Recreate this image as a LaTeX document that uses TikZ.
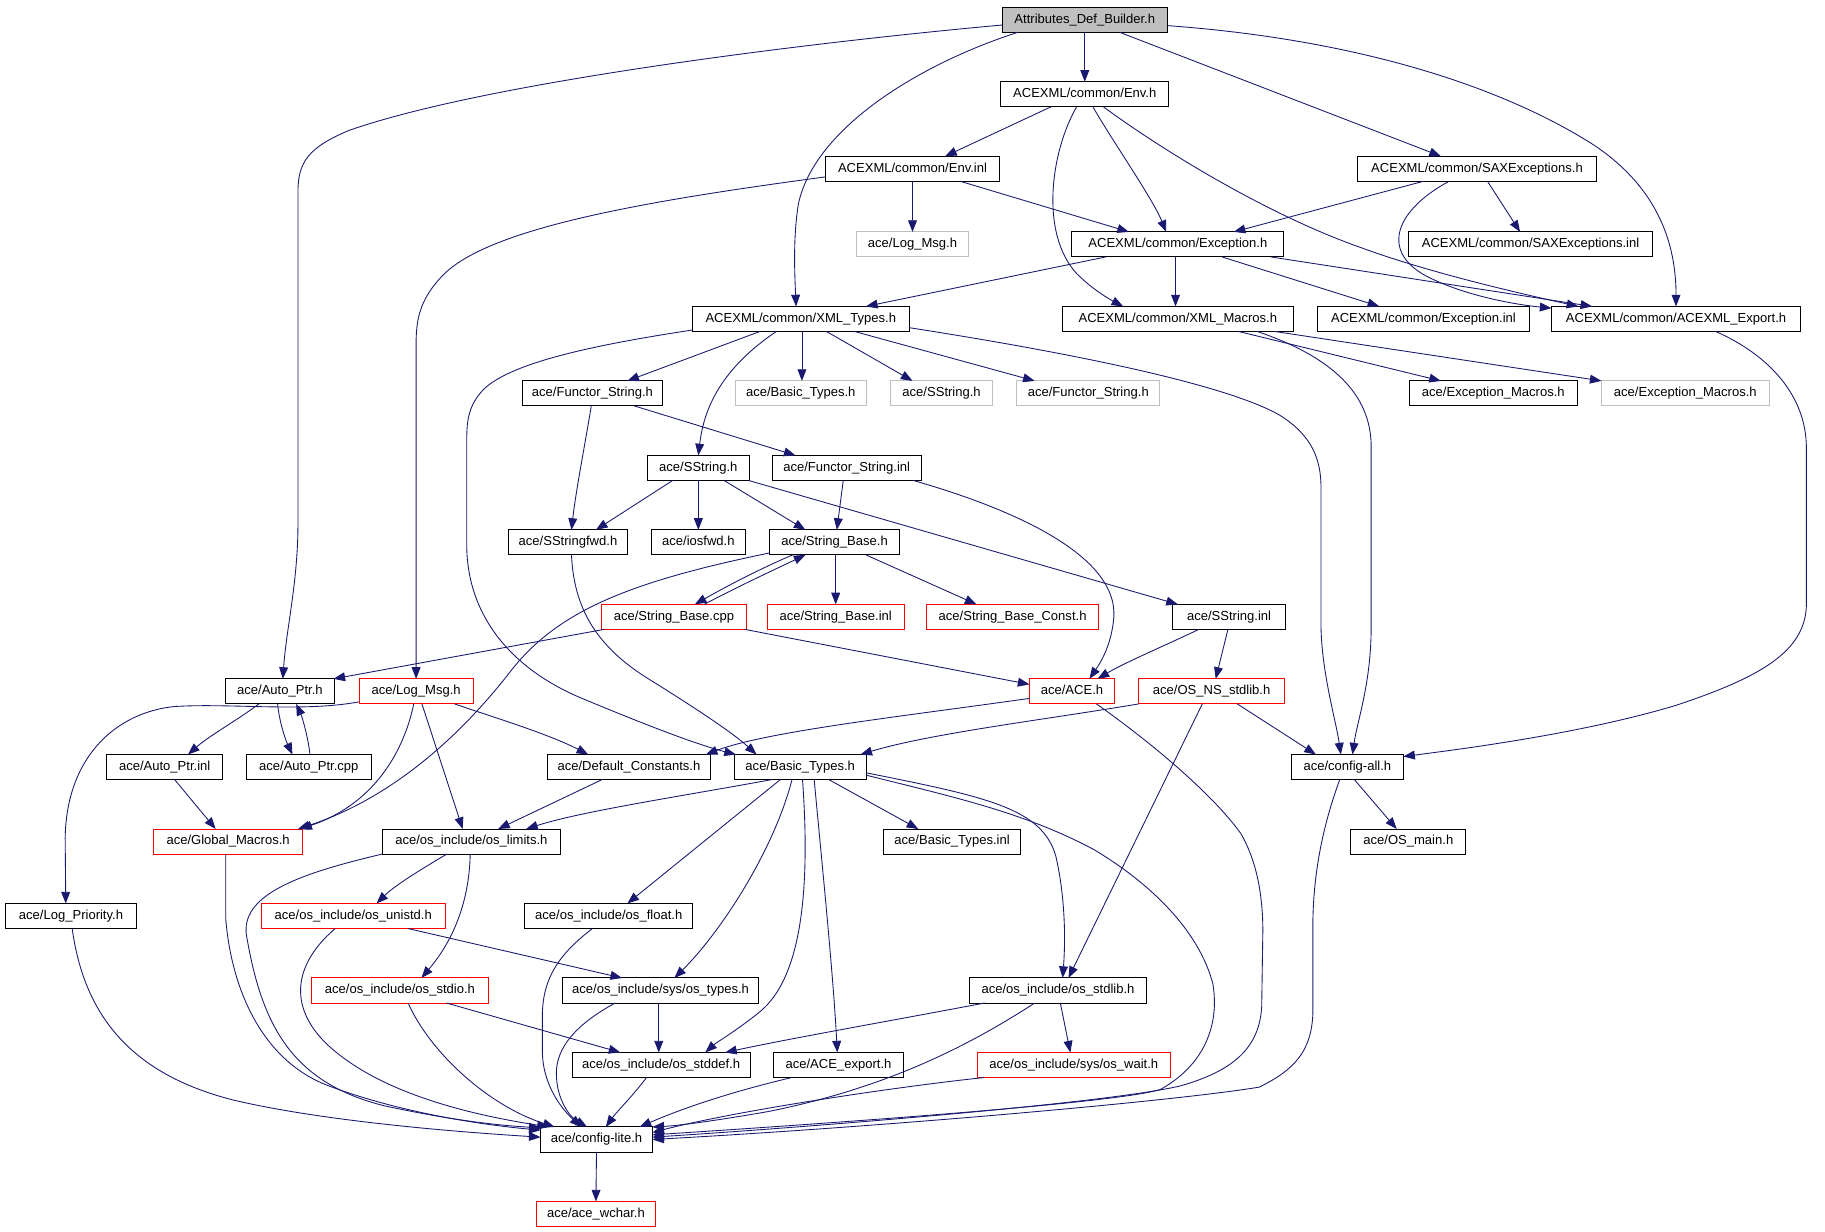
\documentclass[tikz,border=0pt]{standalone}
\usepackage{fontspec}
\setmainfont{Liberation Sans}
\usetikzlibrary{arrows.meta}
\definecolor{edgec}{HTML}{191970}
\definecolor{greyb}{HTML}{BFBFBF}
\begin{document}
\begin{tikzpicture}[x=1pt,y=-1pt,
  box/.style={draw=black, rectangle, line width=0.85pt, minimum height=21.5pt, inner sep=0pt, outer sep=0pt,
    font=\fontsize{11.2}{13}\selectfont, text height=8.2pt, text depth=2.4pt, fill=white},
  redbox/.style={box, draw=red},
  greybox/.style={box, draw=greyb},
  e/.style={draw=edgec, line width=0.75pt, -{Triangle[length=10pt,width=7.6pt]}}]
\useasboundingbox (0,0) rectangle (1568,1058.5);
\fill[white] (0,0) rectangle (1568,1058.5);
% nodes
\node[box, fill=greyb, minimum width=142pt] (A) at (932,17) {Attributes\_Def\_Builder.h};
\node[box, minimum width=144pt] (E) at (932,81) {ACEXML/common/Env.h};
\node[box, minimum width=150pt] (EI) at (784,145) {ACEXML/common/Env.inl};
\node[box, minimum width=206pt] (S) at (1269,145) {ACEXML/common/SAXExceptions.h};
\node[greybox, minimum width=96pt] (LMg) at (784,210) {ace/Log\_Msg.h};
\node[box, minimum width=182pt] (X) at (1012,210) {ACEXML/common/Exception.h};
\node[box, minimum width=210pt] (SXI) at (1315,210) {ACEXML/common/SAXExceptions.inl};
\node[box, minimum width=186pt] (T) at (688,274) {ACEXML/common/XML\_Types.h};
\node[box, minimum width=198pt] (M) at (1012,274) {ACEXML/common/XML\_Macros.h};
\node[box, minimum width=182pt] (XI) at (1223,274) {ACEXML/common/Exception.inl};
\node[box, minimum width=214pt] (AE) at (1440,274) {ACEXML/common/ACEXML\_Export.h};
\node[box, minimum width=121pt] (FS) at (509,338) {ace/Functor\_String.h};
\node[greybox, minimum width=113pt] (BTg) at (688,338) {ace/Basic\_Types.h};
\node[greybox, minimum width=88pt] (SSg) at (809,338) {ace/SString.h};
\node[greybox, minimum width=123pt] (FSg) at (935,338) {ace/Functor\_String.h};
\node[box, minimum width=144pt] (EM) at (1283,338) {ace/Exception\_Macros.h};
\node[greybox, minimum width=144pt] (EMg) at (1448,338) {ace/Exception\_Macros.h};
\node[box, minimum width=88pt] (SS) at (600,402) {ace/SString.h};
\node[box, minimum width=128pt] (FI) at (727.5,402) {ace/Functor\_String.inl};
\node[box, minimum width=102pt] (SF) at (488,466) {ace/SStringfwd.h};
\node[box, minimum width=81pt] (IO) at (600,466) {ace/iosfwd.h};
\node[box, minimum width=111pt] (SB) at (717,466) {ace/String\_Base.h};
\node[redbox, minimum width=124pt] (SBC) at (579,530) {ace/String\_Base.cpp};
\node[redbox, minimum width=118pt] (SBI) at (718,530) {ace/String\_Base.inl};
\node[redbox, minimum width=148pt] (SBK) at (870,530) {ace/String\_Base\_Const.h};
\node[box, minimum width=97pt] (SIN) at (1056,530) {ace/SString.inl};
\node[box, minimum width=94pt] (AP) at (240.5,594) {ace/Auto\_Ptr.h};
\node[redbox, minimum width=98pt] (LM) at (357.5,594) {ace/Log\_Msg.h};
\node[redbox, minimum width=73pt] (ACE) at (921,594) {ace/ACE.h};
\node[redbox, minimum width=125pt] (ON) at (1041,594) {ace/OS\_NS\_stdlib.h};
\node[box, minimum width=100pt] (API) at (141.5,659) {ace/Auto\_Ptr.inl};
\node[box, minimum width=107pt] (APC) at (265.3,659) {ace/Auto\_Ptr.cpp};
\node[box, minimum width=140pt] (DC) at (540.4,659) {ace/Default\_Constants.h};
\node[box, minimum width=113.5pt] (BT) at (687.5,659) {ace/Basic\_Types.h};
\node[box, minimum width=96pt] (CA) at (1157.6,659) {ace/config-all.h};
\node[redbox, minimum width=128pt] (GM) at (196,723) {ace/Global\_Macros.h};
\node[box, minimum width=153pt] (OL) at (405,723) {ace/os\_include/os\_limits.h};
\node[box, minimum width=118pt] (BTI) at (818,723) {ace/Basic\_Types.inl};
\node[box, minimum width=99pt] (OM) at (1210,723) {ace/OS\_main.h};
\node[box, minimum width=112.5pt] (LP) at (61,787) {ace/Log\_Priority.h};
\node[redbox, minimum width=158pt] (OU) at (303.5,787) {ace/os\_include/os\_unistd.h};
\node[box, minimum width=144pt] (OF) at (523,787) {ace/os\_include/os\_float.h};
\node[redbox, minimum width=152pt] (OSI) at (343.6,851) {ace/os\_include/os\_stdio.h};
\node[box, minimum width=169pt] (OT) at (567.5,851) {ace/os\_include/sys/os\_types.h};
\node[box, minimum width=152pt] (OSL) at (909,851) {ace/os\_include/os\_stdlib.h};
\node[box, minimum width=153pt] (OD) at (568,915) {ace/os\_include/os\_stddef.h};
\node[box, minimum width=111pt] (AX) at (720.4,915) {ace/ACE\_export.h};
\node[redbox, minimum width=166pt] (OW) at (922.6,915) {ace/os\_include/sys/os\_wait.h};
\node[box, minimum width=96pt] (CL) at (512.5,979) {ace/config-lite.h};
\node[redbox, minimum width=102pt] (AW) at (512,1043) {ace/ace\_wchar.h};
% edges from A
\draw[e] ([yshift=-4.5]A.west) .. controls (700,36) and (420,70) .. (300,112) .. controls (264,127) and (256,140) .. (256,165) -- (256,450) .. controls (256,500) and (246,540) .. ([xshift=2.5]AP.north);
\draw[e] ([xshift=-57.5]A.south) .. controls (790,55) and (700,110) .. (686,175) .. controls (681,205) and (683,240) .. ([xshift=-4]T.north);
\draw[e] (A.south) -- (E.north);
\draw[e] ([xshift=30]A.south) -- ([xshift=-31]S.north);
\draw[e] ([yshift=-5]A.east) .. controls (1180,35) and (1300,80) .. (1370,125) .. controls (1425,162) and (1440,210) .. (AE.north);
% E
\draw[e] ([xshift=-29]E.south) -- ([xshift=28]EI.north);
\draw[e] ([xshift=7]E.south) .. controls (955,120) and (990,170) .. ([xshift=-10]X.north);
\draw[e] ([xshift=-7]E.south) .. controls (903,130) and (893,200) .. (925,235) .. controls (940,250) and (955,258) .. ([xshift=-47]M.north);
\draw[e] ([xshift=16]E.south) .. controls (1000,130) and (1090,185) .. (1170,213) .. controls (1230,235) and (1310,253) .. ([xshift=-84]AE.north);
% EI
\draw[e] (EI.south) -- (LMg.north);
\draw[e] ([xshift=41]EI.south) -- ([xshift=-42]X.north);
\draw[e] ([yshift=-7]EI.west) .. controls (560,172) and (420,195) .. (380,237) .. controls (362,256) and (357.5,272) .. (357.5,295) -- (LM.north);
% S
\draw[e] ([xshift=-46]S.south) -- ([xshift=48]X.north);
\draw[e] ([xshift=9]S.south) -- ([xshift=-9]SXI.north);
\draw[e] ([xshift=-24]S.south) .. controls (1200,180) and (1185,215) .. (1225,237) .. controls (1260,255) and (1305,262) .. ([yshift=-1.5]AE.north west);
% X
\draw[e] ([xshift=-62]X.south) -- ([xshift=56]T.north);
\draw[e] ([xshift=-2]X.south) -- ([xshift=-2]M.north);
\draw[e] ([xshift=38]X.south) -- ([xshift=-38]XI.north);
\draw[e] ([xshift=80]X.south) -- ([xshift=-72]AE.north);
% T
\draw[e] ([xshift=-35]T.south) -- ([xshift=30]FS.north);
\draw[e] ([xshift=1]T.south) -- ([xshift=1]BTg.north);
\draw[e] ([xshift=22]T.south) -- ([xshift=-25]SSg.north);
\draw[e] ([xshift=46]T.south) -- ([xshift=-46]FSg.north);
\draw[e] ([xshift=-21]T.south) .. controls (630,310) and (606,340) .. (SS.north);
\draw[e] ([yshift=-7.5]T.east) .. controls (900,300) and (1050,328) .. (1100,357) .. controls (1128,375) and (1135,395) .. (1135,420) -- (1135,540) .. controls (1136,580) and (1148,620) .. ([xshift=-5.6]CA.north);
\draw[e] ([yshift=-9.5]T.west) .. controls (520,295) and (440,310) .. (415,335) .. controls (403,348) and (401,360) .. (401,378) -- (401,470) .. controls (402,530) and (440,575) .. (500,600) .. controls (560,625) and (600,640) .. ([xshift=1.5]BT.north west);
% M
\draw[e] ([xshift=52]M.south) -- ([xshift=-45]EM.north);
\draw[e] ([xshift=83]M.south) -- ([xshift=-72]EMg.north);
\draw[e] ([xshift=68]M.south) .. controls (1140,305) and (1176,335) .. (1178,380) -- (1178,545) .. controls (1177,590) and (1166,620) .. ([xshift=4.4]CA.north);
% AE
\draw[e] ([xshift=34]AE.south) .. controls (1520,305) and (1552,340) .. (1552,385) -- (1552,520) .. controls (1551,560) and (1512,582) .. (1440,606) .. controls (1360,630) and (1260,643) .. ([yshift=9]CA.east);
% FS
\draw[e] ([xshift=-1]FS.south) .. controls (503,380) and (495,420) .. ([xshift=3]SF.north);
\draw[e] ([xshift=36]FS.south) -- ([xshift=-44]FI.north);
% SS
\draw[e] ([xshift=-22]SS.south) -- ([xshift=24]SF.north);
\draw[e] (SS.south) -- (IO.north);
\draw[e] ([xshift=22]SS.south) -- ([xshift=-25]SB.north);
\draw[e] ([xshift=43]SS.south) -- ([xshift=-44]SIN.north);
% FI
\draw[e] ([xshift=-3]FI.south) -- ([xshift=2]SB.north);
\draw[e] ([xshift=57]FI.south) .. controls (880,440) and (960,480) .. (957,530) .. controls (955,555) and (945,570) .. ([xshift=15]ACE.north);
% SF
\draw[e] ([xshift=3]SF.south) .. controls (493,520) and (510,555) .. (560,585) .. controls (600,610) and (630,630) .. ([xshift=-37.5]BT.north);
% SB
\draw[e] ([xshift=-36]SB.south) .. controls (650,490) and (622,505) .. ([xshift=18]SBC.north);
\draw[e] ([xshift=1]SB.south) -- (SBI.north);
\draw[e] ([xshift=27]SB.south) -- ([xshift=-31]SBK.north);
\draw[e] ([yshift=-9]SB.west) .. controls (540,500) and (480,525) .. (440,575) .. controls (390,640) and (330,688) .. ([xshift=-4]GM.north east);
% SBC
\draw[e] ([xshift=26]SBC.north) .. controls (632,505) and (664,490) .. ([xshift=-25]SB.south);
\draw[e] ([xshift=2]SBC.south west) -- ([xshift=-1]AP.north east);
\draw[e] ([xshift=-1]SBC.south east) -- ([yshift=6]ACE.west);
% SIN
\draw[e] ([xshift=-26]SIN.south) .. controls (1000,555) and (965,570) .. ([xshift=22]ACE.north);
\draw[e] ([xshift=-1]SIN.south) -- ([xshift=3.5]ON.north);
% AP
\draw[e] ([xshift=-18]AP.south) .. controls (205,618) and (180,632) .. ([xshift=20]API.north);
\draw[e] ([xshift=-2]AP.south) .. controls (240,620) and (245,635) .. ([xshift=-14]APC.north);
\draw[e] ([xshift=1]APC.north) .. controls (265,635) and (260,617) .. ([xshift=14]AP.south);
% LM
\draw[e] ([yshift=-9]LM.west) .. controls (260,612) and (200,604) .. (150,607) .. controls (100,612) and (57,650) .. (56,720) -- ([xshift=-4.5]LP.north);
\draw[e] ([xshift=-2]LM.south) .. controls (346,650) and (318,692) .. ([xshift=-2]GM.north east);
\draw[e] ([xshift=5]LM.south) -- ([xshift=-7.5]OL.north);
\draw[e] ([xshift=33]LM.south) .. controls (420,615) and (470,630) .. ([xshift=-35]DC.north);
% ACE
\draw[e] ([yshift=-6]ACE.west) .. controls (780,615) and (660,628) .. ([xshift=-4]DC.north east);
\draw[e] ([xshift=21]ACE.south) .. controls (985,635) and (1040,680) .. (1066,716) .. controls (1080,740) and (1085,770) .. (1085,800) -- (1084,865) .. controls (1082,900) and (1060,920) .. (1014,933) .. controls (950,948) and (700,968) .. ([yshift=2]CL.east);
% ON
\draw[e] (ON.south west) .. controls (900,618) and (800,630) .. ([xshift=-5]BT.north east);
\draw[e] ([xshift=22]ON.south) -- ([xshift=-27]CA.north);
\draw[e] ([xshift=-8]ON.south) -- ([xshift=9]OSL.north);
% API, DC
\draw[e] ([xshift=8.5]API.south) -- ([xshift=-10.7]GM.north);
\draw[e] ([xshift=-23]DC.south) -- ([xshift=23]OL.north);
% BT
\draw[e] ([xshift=-24]BT.south) .. controls (580,685) and (500,697) .. ([xshift=47]OL.north);
\draw[e] ([xshift=24.5]BT.south) -- ([xshift=-29]BTI.north);
\draw[e] ([xshift=-17]BT.south) -- ([xshift=16]OF.north);
\draw[e] ([xshift=-7]BT.south) .. controls (665,730) and (620,800) .. ([xshift=12]OT.north);
\draw[e] ([xshift=2]BT.south) .. controls (696,760) and (690,840) .. (652,870) .. controls (632,886) and (615,896) .. ([xshift=38]OD.north);
\draw[e] ([xshift=12]BT.south) .. controls (708,760) and (716,840) .. ([xshift=-1]AX.north);
\draw[e] ([yshift=-5]BT.east) .. controls (850,685) and (895,695) .. (907,735) .. controls (914,765) and (916,800) .. ([xshift=4]OSL.north);
\draw[e] ([yshift=-7]BT.east) .. controls (820,685) and (880,698) .. (940,730) .. controls (990,760) and (1030,800) .. (1042,845) .. controls (1048,880) and (1035,915) .. (997,936) .. controls (960,948) and (700,966) .. ([yshift=4]CL.east);
% CA
\draw[e] ([xshift=6]CA.south) -- ([xshift=-10]OM.north);
\draw[e] ([xshift=-6.5]CA.south) .. controls (1140,700) and (1129,740) .. (1128,790) -- (1128,870) .. controls (1127,905) and (1110,920) .. (1082,934) .. controls (1010,946) and (760,968) .. (CL.east);
% GM, OL, LP
\draw[e] ([xshift=-2]GM.south) -- (194,790) .. controls (199,850) and (225,910) .. (280,932) .. controls (340,955) and (410,966) .. ([yshift=8]CL.west);
\draw[e] ([xshift=-21]OL.south) .. controls (365,745) and (340,760) .. ([xshift=20]OU.north);
\draw[e] ([xshift=-1]OL.south) .. controls (403,780) and (386,812) .. ([xshift=18.5]OSI.north);
\draw[e] (OL.south west) .. controls (260,750) and (205,768) .. (212,805) .. controls (225,880) and (250,930) .. (330,950) .. controls (390,963) and (430,967) .. ([yshift=10]CL.west);
\draw[e] ([xshift=1]LP.south) .. controls (72,870) and (110,922) .. (200,945) .. controls (280,964) and (400,973) .. ([yshift=2]CL.west);
% OU
\draw[e] ([xshift=47]OU.south) -- ([xshift=-33]OT.north);
\draw[e] ([xshift=-15.5]OU.south) .. controls (248,832) and (248,872) .. (290,905) .. controls (340,945) and (420,960) .. ([xshift=7]CL.north west);
% OF
\draw[e] ([xshift=-14]OF.south) .. controls (480,820) and (467,840) .. (466,870) -- (466,905) .. controls (467,935) and (485,955) .. ([xshift=-13]CL.north);
% OSI
\draw[e] ([xshift=7]OSI.south) .. controls (370,905) and (420,950) .. ([xshift=12]CL.north west);
\draw[e] ([xshift=40]OSI.south) -- ([xshift=-35]OD.north);
% OT
\draw[e] ([xshift=-1.5]OT.south) -- ([xshift=-2]OD.north);
\draw[e] ([xshift=-39]OT.south) .. controls (495,880) and (478,900) .. (478,922) .. controls (478,945) and (490,960) .. ([xshift=-8]CL.north);
% OSL
\draw[e] ([xshift=-63]OSL.south) .. controls (760,878) and (680,892) .. ([xshift=55]OD.north);
\draw[e] ([xshift=2]OSL.south) -- ([xshift=-3]OW.north);
\draw[e] ([xshift=-20]OSL.south) .. controls (830,900) and (760,935) .. (660,955) .. controls (620,962) and (585,967) .. (CL.north east);
% OD, AX, OW
\draw[e] ([xshift=-12.5]OD.south) .. controls (545,940) and (530,955) .. ([xshift=8]CL.north);
\draw[e] ([xshift=-40]AX.south) .. controls (620,940) and (580,955) .. ([xshift=37]CL.north);
\draw[e] ([xshift=-77]OW.south) .. controls (760,935) and (630,955) .. ([yshift=6]CL.east);
% CL
\draw[e] (CL.south) -- (AW.north);
\end{tikzpicture}
\end{document}
